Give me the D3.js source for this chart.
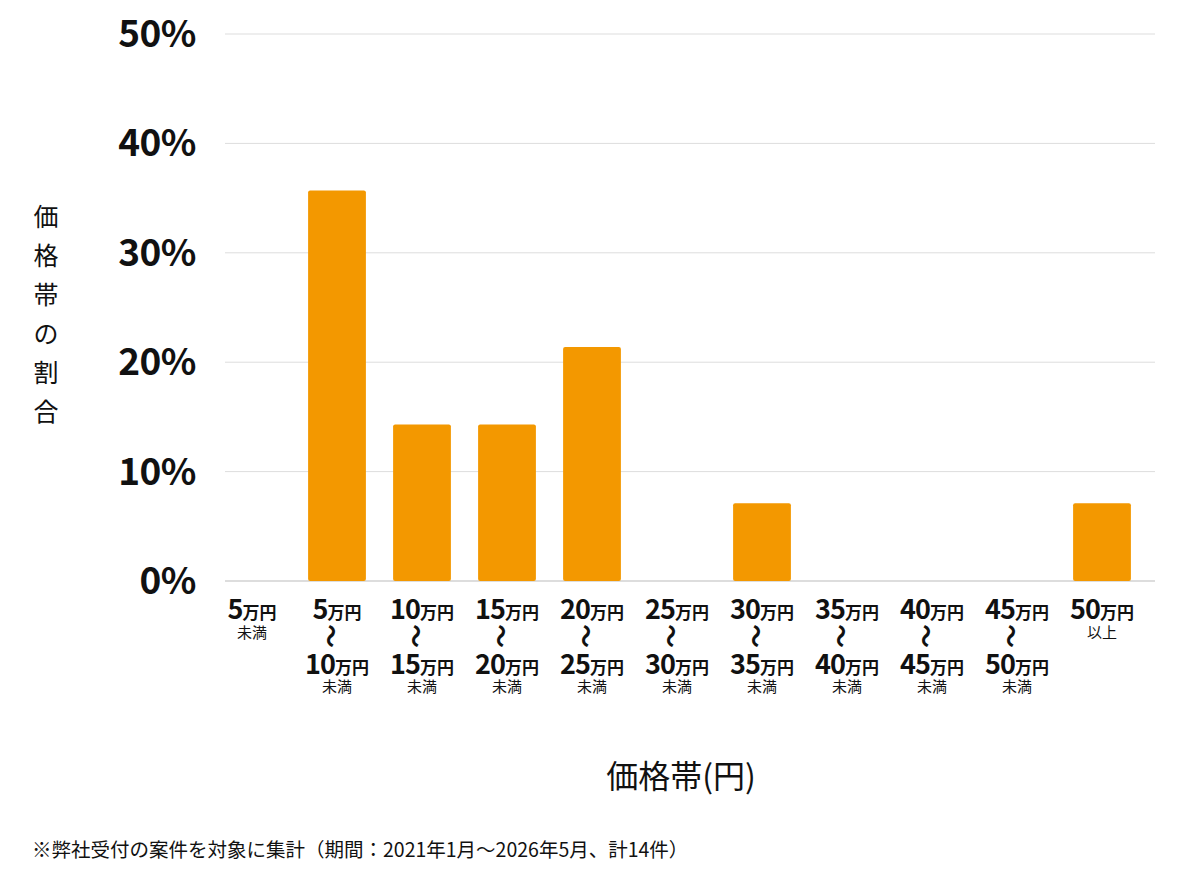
<!DOCTYPE html>
<html><head><meta charset="utf-8">
<script src="https://cdn.jsdelivr.net/npm/d3@7"></script>
<style>body{margin:0;background:#fff;font-family:"Noto Sans CJK JP","Noto Sans",sans-serif}</style>
</head><body><div id="chart"></div>
<script>
// one entry per price band: [top amount, bottom amount or null, suffix]
const bands = [
  ['5', null, '未満'], ['5', '10', '未満'], ['10', '15', '未満'], ['15', '20', '未満'],
  ['20', '25', '未満'], ['25', '30', '未満'], ['30', '35', '未満'], ['35', '40', '未満'],
  ['40', '45', '未満'], ['45', '50', '未満'], ['50', null, '以上'],
];
const shares = [0, 35.7, 14.3, 14.3, 21.4, 0, 7.1, 0, 0, 0, 7.1];
const yTicks = [0, 10, 20, 30, 40, 50];

const W = 1200, H = 874;
const svg = d3.select('#chart').append('svg').attr('width', W).attr('height', H);

const x = d3.scaleBand().domain(d3.range(bands.length)).range([209.5, 1144.5]).paddingInner(0.32).paddingOuter(0.16);
const y = d3.scaleLinear().domain([0, 50]).range([581, 34]);

svg.append('g').selectAll('line').data(yTicks).join('line')
  .attr('x1', 225).attr('x2', 1155).attr('y1', d => y(d)).attr('y2', d => y(d))
  .attr('stroke', d => d === 0 ? '#bbb' : '#ddd').attr('stroke-width', 1);

svg.append('g').selectAll('text').data(yTicks).join('text')
  .attr('x', 196).attr('y', d => y(d) + 13).attr('text-anchor', 'end')
  .attr('font-size', 37).attr('font-weight', 700).attr('fill', '#111')
  .attr('letter-spacing', -0.5)
  .text(d => d + '%');

svg.append('g').selectAll('rect').data(shares).join('rect')
  .attr('x', (d, i) => x(i)).attr('width', x.bandwidth())
  .attr('y', d => y(d)).attr('height', d => y(0) - y(d))
  .attr('rx', 2).attr('fill', '#f39800');

function amount(g, cx, yy, v) {
  const t = g.append('text').attr('x', cx).attr('y', yy).attr('text-anchor', 'middle').attr('fill', '#111');
  t.append('tspan').attr('font-size', 27).attr('font-weight', 700).attr('letter-spacing', -1).text(v);
  t.append('tspan').attr('font-size', 17).attr('font-weight', 700).text('万円');
}
const lab = svg.append('g');
bands.forEach((b, i) => {
  const cx = x(i) + x.bandwidth() / 2;
  amount(lab, cx, 619, b[0]);
  if (b[1] === null) {
    lab.append('text').attr('x', cx).attr('y', 638).attr('text-anchor', 'middle').attr('font-size', 15).attr('fill', '#111').text(b[2]);
  } else {
    lab.append('text').attr('transform', `translate(${cx - 7},636) rotate(90)`).attr('text-anchor', 'middle')
      .attr('dy', '0.35em').attr('font-size', 24).attr('font-weight', 700).attr('fill', '#111').text('〜');
    amount(lab, cx, 674, b[1]);
    lab.append('text').attr('x', cx).attr('y', 692).attr('text-anchor', 'middle').attr('font-size', 15).attr('fill', '#111').text(b[2]);
  }
});

// vertical y title, one character per line
svg.append('g').selectAll('text').data([...'価格帯の割合']).join('text')
  .attr('x', 46).attr('y', (d, i) => 226 + i * 39).attr('text-anchor', 'middle')
  .attr('font-size', 25).attr('fill', '#111').text(d => d);

svg.append('text').attr('x', 681).attr('y', 788).attr('text-anchor', 'middle')
  .attr('font-size', 32).attr('fill', '#111').text('価格帯(円)');

svg.append('text').attr('x', 32).attr('y', 857).attr('font-size', 19.5).attr('fill', '#111')
  .text('※弊社受付の案件を対象に集計（期間：2021年1月～2026年5月、計14件）');
</script></body></html>
